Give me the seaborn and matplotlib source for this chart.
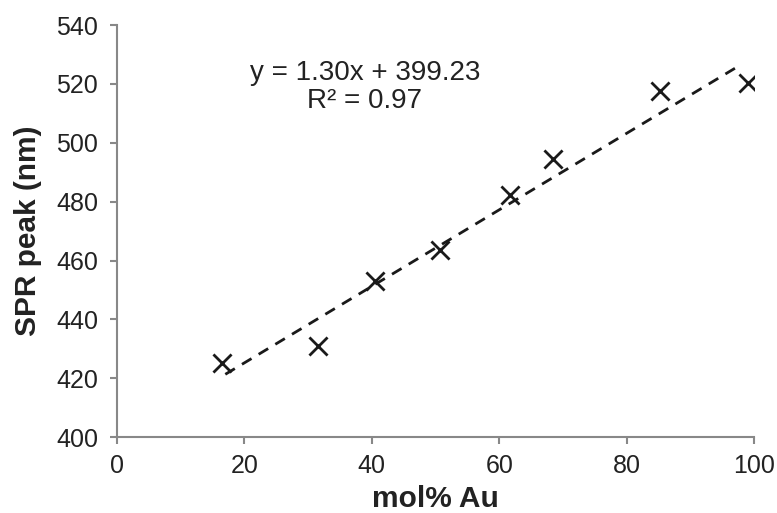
import matplotlib
matplotlib.use("Agg")
import matplotlib.pyplot as plt
import seaborn as sns
import numpy as np
import pandas as pd

# data
mol_au = [16.5, 31.6, 40.5, 50.7, 61.7, 68.4, 85.2, 99.1]
spr_peak = [425.3, 431.0, 452.9, 463.5, 482.4, 494.6, 517.5, 520.5]
slope = 1.30
intercept = 399.23
fit_range = [17.0, 98.0]

sns.set_theme(style="ticks")
plt.rcParams['font.family'] = ['Liberation Sans', 'DejaVu Sans']

df = pd.DataFrame({'mol% Au': mol_au, 'SPR peak (nm)': spr_peak})

fig = plt.figure(figsize=(7.77, 5.13), dpi=100)
ax = fig.add_axes([0.1506, 0.148, 0.8198, 0.803])

sns.scatterplot(data=df, x='mol% Au', y='SPR peak (nm)', marker='x', s=170,
                color='#1a1a1a', linewidth=2, ax=ax, zorder=3)

# linear trend line
fx = np.array(fit_range)
ax.plot(fx, slope * fx + intercept, linestyle=(0, (4, 3)), color='#1a1a1a', lw=2)

ax.text(38.9, 519, f'y = {slope:.2f}x + {intercept:.2f}\nR² = 0.97',
        ha='center', va='center', multialignment='center',
        fontsize=20, color='#222222', linespacing=1.1)

ax.set_xlim(0, 100)
ax.set_ylim(400, 540)
ax.set_xticks(range(0, 101, 20))
ax.set_yticks(range(400, 541, 20))
ax.tick_params(labelsize=18, colors='#888888', labelcolor='#222222',
               length=5, width=1.5, direction='out')
ax.tick_params(axis='y', pad=8.5)
ax.tick_params(axis='x', pad=7.5)
for side in ['left', 'bottom']:
    ax.spines[side].set_color('#888888')
    ax.spines[side].set_linewidth(1.5)
sns.despine(ax=ax)

ax.set_xlabel('mol% Au', fontsize=21.5, fontweight='bold', color='#222222', labelpad=5)
ax.set_ylabel('SPR peak (nm)', fontsize=21.5, fontweight='bold', color='#222222', labelpad=10)

fig.savefig('out.png', dpi=100)
